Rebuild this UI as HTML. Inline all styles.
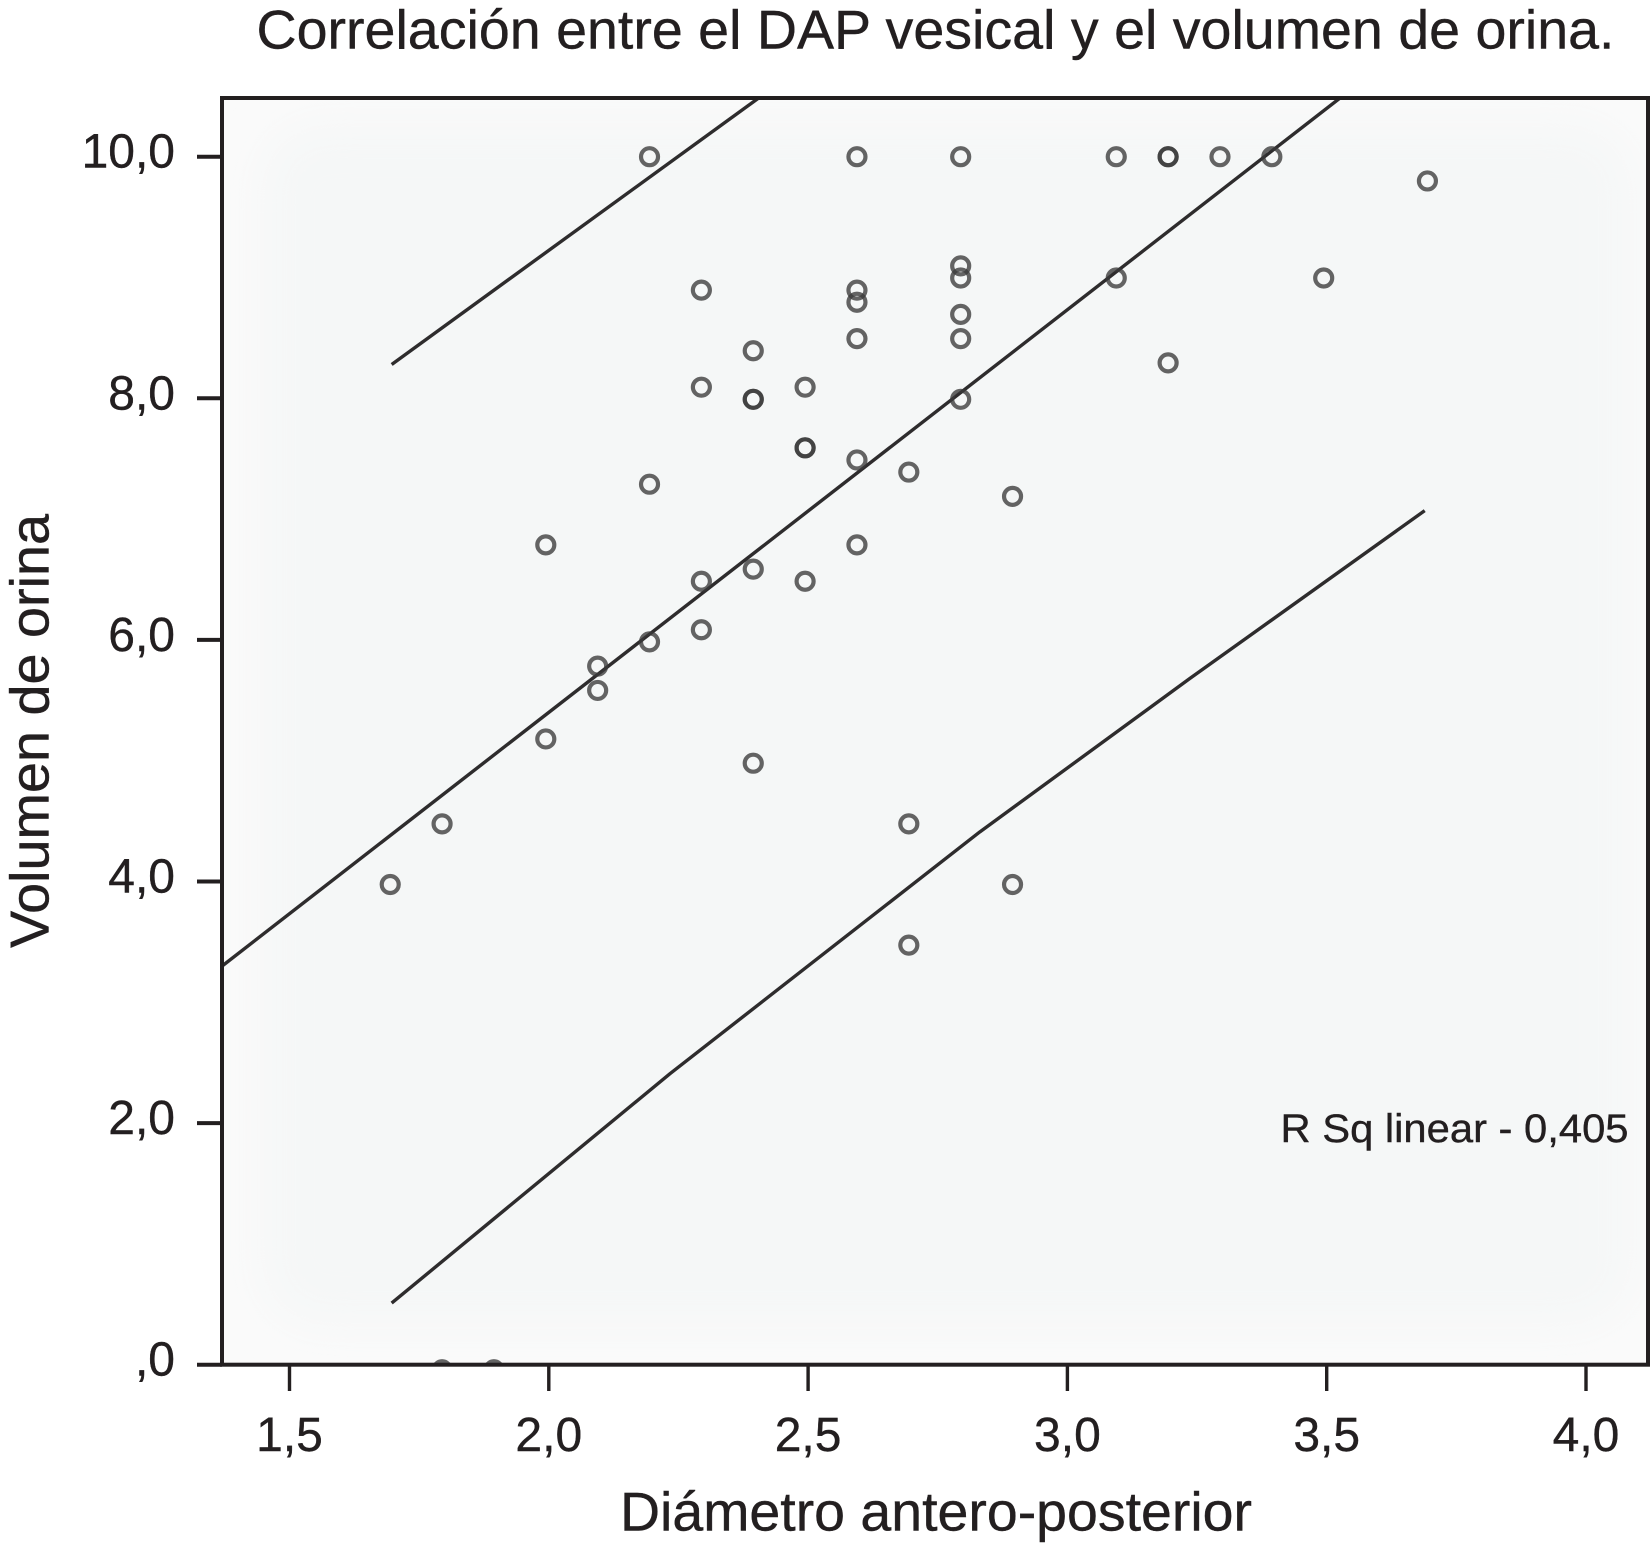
<!DOCTYPE html>
<html lang="es">
<head>
<meta charset="utf-8">
<title>Correlación entre el DAP vesical y el volumen de orina</title>
<style>
html,body{margin:0;padding:0;background:#fff;width:1650px;height:1557px;overflow:hidden}
svg{display:block}
text{font-family:"Liberation Sans",sans-serif;fill:#231f20;stroke:#231f20;stroke-width:0.4}
</style>
</head>
<body>
<svg id="chart" xmlns="http://www.w3.org/2000/svg" width="1650" height="1557" viewBox="0 0 1650 1557">
  <defs>
    <clipPath id="plot-clip"><rect x="224" y="100" width="1422" height="1263"/></clipPath>
    <filter id="soft" x="-10%" y="-10%" width="120%" height="120%"><feGaussianBlur stdDeviation="22"/></filter>
  </defs>
  <rect x="222" y="98" width="1426" height="1267" fill="#fafafa"/>
  <g clip-path="url(#plot-clip)">
    <rect x="262" y="125" width="1370" height="1200" rx="60" fill="#f5f7f7" filter="url(#soft)"/>
  </g>
  <g id="fit-lines" clip-path="url(#plot-clip)"></g>
  <g id="points" clip-path="url(#plot-clip)"></g>
  <rect x="222" y="98" width="1426" height="1266.7" fill="none" stroke="#231f20" stroke-width="4"/>
  <g id="y-axis"></g>
  <g id="x-axis"></g>
  <text x="256.5" y="48.5" font-size="55" textLength="1358" lengthAdjust="spacingAndGlyphs">Correlación entre el DAP vesical y el volumen de orina.</text>
  <text x="620" y="1530.5" font-size="55" textLength="632" lengthAdjust="spacingAndGlyphs">Diámetro antero-posterior</text>
  <text transform="translate(48.5 948) rotate(-90)" font-size="55" textLength="434" lengthAdjust="spacingAndGlyphs">Volumen de orina</text>
  <text x="1280.5" y="1142" font-size="40" textLength="348" lengthAdjust="spacingAndGlyphs">R Sq linear - 0,405</text>
</svg>
<script>
const xTicks = [1.5, 2.0, 2.5, 3.0, 3.5, 4.0];
const xTickLabels = ['1,5', '2,0', '2,5', '3,0', '3,5', '4,0'];
const yTicks = [0, 2, 4, 6, 8, 10];
const yTickLabels = [',0', '2,0', '4,0', '6,0', '8,0', '10,0'];
const diameter = [1.7, 1.8, 1.8, 1.9, 2.0, 2.0, 2.1, 2.1, 2.2, 2.2, 2.2, 2.3, 2.3, 2.3, 2.3, 2.4, 2.4, 2.4, 2.4, 2.4, 2.5, 2.5, 2.5, 2.5, 2.6, 2.6, 2.6, 2.6, 2.6, 2.6, 2.7, 2.7, 2.7, 2.8, 2.8, 2.8, 2.8, 2.8, 2.8, 2.9, 2.9, 3.1, 3.1, 3.2, 3.2, 3.2, 3.3, 3.4, 3.5, 3.7];
const volume = [4.0, 4.5, 0.0, 0.0, 6.8, 5.2, 5.8, 5.6, 10.0, 7.3, 6.0, 8.9, 8.1, 6.5, 6.1, 8.4, 8.0, 8.0, 6.6, 5.0, 8.1, 7.6, 7.6, 6.5, 10.0, 8.9, 8.8, 8.5, 7.5, 6.8, 7.4, 4.5, 3.5, 10.0, 9.1, 9.0, 8.7, 8.5, 8.0, 7.2, 4.0, 10.0, 9.0, 10.0, 10.0, 8.3, 10.0, 10.0, 9.0, 9.8];
const upperLineX = [1.697, 2.406];
const upperLineY = [8.28, 10.49];
const fitLineX = [1.37, 3.53];
const fitLineY = [3.3, 10.5];
const lowerLineX = [1.697, 2.234, 2.831, 3.236, 3.689];
const lowerLineY = [0.51, 2.41, 4.41, 5.68, 7.07];

const SVG_NS = 'http://www.w3.org/2000/svg';
function xScale(v) { return 289.5 + (v - 1.5) * 518.6; }
function yScale(v) { return 1364.7 - v * 120.8; }
function pointX(v) { return xScale(v) - 3; }
function pointY(v) { return yScale(10) + (10 - v) * 121.3; }
function make(tag, attrs, parent) {
  const el = document.createElementNS(SVG_NS, tag);
  for (const k in attrs) el.setAttribute(k, attrs[k]);
  parent.appendChild(el);
  return el;
}

const lineLayer = document.getElementById('fit-lines');
const pointLayer = document.getElementById('points');
const xAxis = document.getElementById('x-axis');
const yAxis = document.getElementById('y-axis');

function drawLine(xs, ys, name) {
  const pts = xs.map(function (x, i) { return xScale(x) + ',' + yScale(ys[i]); }).join(' ');
  const el = make('polyline', {
    points: pts, fill: 'none', 'stroke-linejoin': 'round',
    stroke: '#2e2c2d', 'stroke-width': 3.4
  }, lineLayer);
  
  
}
drawLine(upperLineX, upperLineY, 'upper-prediction-line');
drawLine(fitLineX, fitLineY, 'linear-fit-line');
drawLine(lowerLineX, lowerLineY, 'lower-prediction-line');

diameter.forEach(function (d, i) {
  const c = make('circle', {
    cx: pointX(d), cy: pointY(volume[i]), r: 8.5,
    fill: 'none', stroke: '#3a3a3a', 'stroke-width': 4.2, 'stroke-opacity': 0.78
  }, pointLayer);
  
  
});

xTicks.forEach(function (t, i) {
  const tick = make('line', {
    x1: xScale(t), y1: 1364.7, x2: xScale(t), y2: 1391,
    stroke: '#231f20', 'stroke-width': 3.4
  }, xAxis);
  
  
  const label = make('text', {
    x: xScale(t), y: 1451, 'font-size': 48, 'text-anchor': 'middle'
  }, xAxis);
  label.textContent = xTickLabels[i];
  
  
});

yTicks.forEach(function (t, i) {
  const tick = make('line', {
    x1: 197, y1: yScale(t), x2: 222, y2: yScale(t),
    stroke: '#231f20', 'stroke-width': 4
  }, yAxis);
  
  
  const label = make('text', {
    x: 175, y: yScale(t) + 11, 'font-size': 48, 'text-anchor': 'end'
  }, yAxis);
  label.textContent = yTickLabels[i];
  
  
});
</script>
</body>
</html>
